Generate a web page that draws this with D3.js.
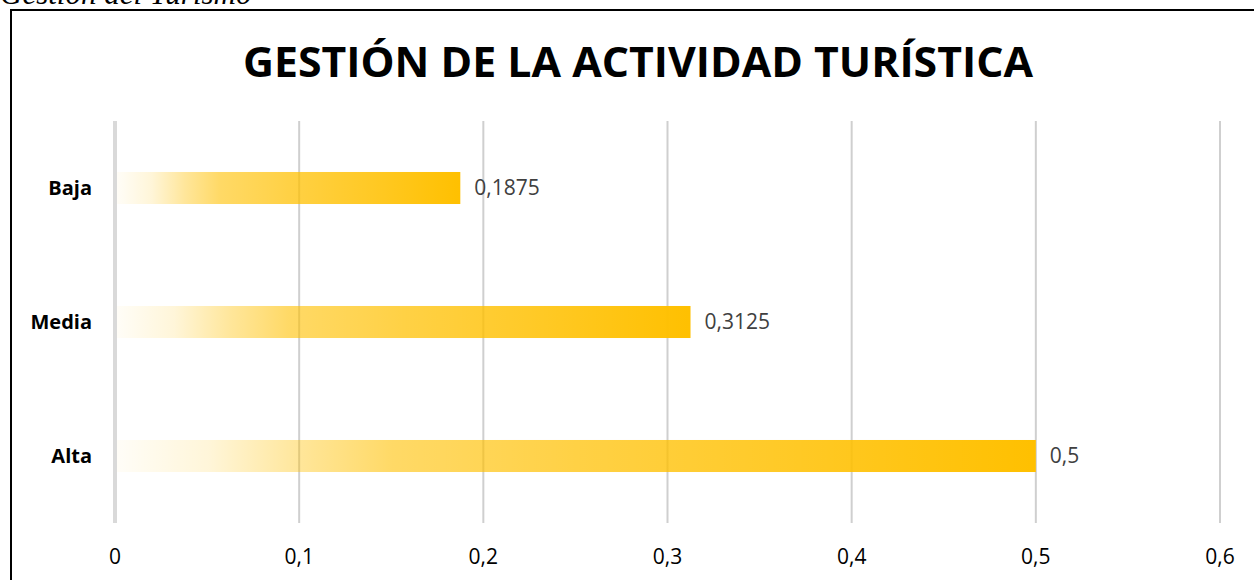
<!DOCTYPE html>
<html>
<head>
<meta charset="utf-8">
<script src="https://cdn.jsdelivr.net/npm/d3@7"></script>
<style>
  body { margin: 0; background: #fff; }
  svg { display: block; }
</style>
</head>
<body>
<svg id="chart"></svg>
<script>
/* data */
var categories = ["Baja", "Media", "Alta"];
var values = [0.1875, 0.3125, 0.5];
var valueLabels = ["0,1875", "0,3125", "0,5"];
var xTicks = [0, 0.1, 0.2, 0.3, 0.4, 0.5, 0.6];
var chartTitle = "GESTIÓN DE LA ACTIVIDAD TURÍSTICA";
var captionText = "Gestión del Turismo";

var width = 1254, height = 580;
var margin = { top: 121, right: 34, bottom: 57, left: 115 };
var innerWidth = width - margin.left - margin.right;
var innerHeight = height - margin.top - margin.bottom;

var svg = d3.select("#chart")
	.attr("width", width)
	.attr("height", height);

/* caption cut at the top, and frame */
svg.append("text")
	.attr("x", 0)
	.attr("y", 4)
	.style("font-family", "'Liberation Serif', serif")
	.style("font-style", "italic")
	.style("font-size", "31px")
	.text(captionText);

svg.append("rect")
	.attr("x", 11)
	.attr("y", 10)
	.attr("width", width + 20)
	.attr("height", height + 20)
	.attr("fill", "none")
	.attr("stroke", "#000")
	.attr("stroke-width", 2);

/* gradient */
var grad = svg.append("defs").append("linearGradient")
	.attr("id", "barGrad")
	.attr("x1", "0%").attr("x2", "100%")
	.attr("y1", "0%").attr("y2", "0%");
[[0, 0.03], [0.1, 0.15], [0.2, 0.4], [0.3, 0.6], [0.5, 0.73], [0.75, 0.86], [1, 1]]
	.forEach(function(s) {
		grad.append("stop")
			.attr("offset", s[0])
			.attr("stop-color", "#ffc000")
			.attr("stop-opacity", s[1]);
	});

/* title */
svg.append("text")
	.attr("x", 638)
	.attr("y", 77)
	.attr("text-anchor", "middle")
	.attr("textLength", 790)
	.attr("lengthAdjust", "spacingAndGlyphs")
	.style("font-family", "'Open Sans', sans-serif")
	.style("font-weight", "bold")
	.style("font-size", "41px")
	.text(chartTitle);

var g = svg.append("g")
	.attr("transform", "translate(" + margin.left + "," + margin.top + ")");

/* scales */
var xScale = d3.scaleLinear()
	.domain([0, 0.6])
	.range([0, 1220 - margin.left]);

var yScale = d3.scaleBand()
	.domain(categories)
	.range([0, innerHeight])
	.paddingInner(0.761)
	.paddingOuter(0.3805);

/* gridlines */
g.selectAll(".grid")
	.data(xTicks)
	.enter().append("line")
	.attr("class", "grid")
	.attr("x1", function(d) { return xScale(d); })
	.attr("x2", function(d) { return xScale(d); })
	.attr("y1", 0)
	.attr("y2", innerHeight)
	.attr("stroke", function(d) { return d === 0 ? "#d9d9d9" : "#cfcfcf"; })
	.attr("stroke-width", function(d) { return d === 0 ? 4 : 2; });

/* bars */
var data = categories.map(function(c, i) { return { cat: c, value: values[i], label: valueLabels[i] }; });

g.selectAll(".bar")
	.data(data)
	.enter().append("rect")
	.attr("class", "bar")
	.attr("x", xScale(0) + 2)
	.attr("y", function(d) { return yScale(d.cat); })
	.attr("width", function(d) { return xScale(d.value) - xScale(0) - 2; })
	.attr("height", yScale.bandwidth())
	.attr("fill", "url(#barGrad)");

/* value labels */
g.selectAll(".vlabel")
	.data(data)
	.enter().append("text")
	.attr("class", "vlabel")
	.attr("x", function(d) { return xScale(d.value) + 14; })
	.attr("y", function(d) { return yScale(d.cat) + yScale.bandwidth() / 2; })
	.attr("dy", "0.35em")
	.style("font-family", "'Open Sans', sans-serif")
	.style("font-size", "21px")
	.attr("fill", "#404040")
	.text(function(d) { return d.label; });

/* category labels */
g.selectAll(".clabel")
	.data(categories)
	.enter().append("text")
	.attr("class", "clabel")
	.attr("x", -23)
	.attr("y", function(d) { return yScale(d) + yScale.bandwidth() / 2; })
	.attr("dy", "0.35em")
	.attr("text-anchor", "end")
	.style("font-family", "'Open Sans', sans-serif")
	.style("font-weight", "bold")
	.style("font-size", "20px")
	.attr("fill", "#000")
	.text(function(d) { return d; });

/* x axis tick labels */
var fmt = function(d) { return d3.format("")(d).replace(".", ","); };
g.selectAll(".xlabel")
	.data(xTicks)
	.enter().append("text")
	.attr("class", "xlabel")
	.attr("x", function(d) { return xScale(d); })
	.attr("y", innerHeight + 34)
	.attr("dy", "0.35em")
	.attr("text-anchor", "middle")
	.style("font-family", "'Open Sans', sans-serif")
	.style("font-size", "21px")
	.attr("fill", "#000")
	.text(fmt);
</script>
</body>
</html>
